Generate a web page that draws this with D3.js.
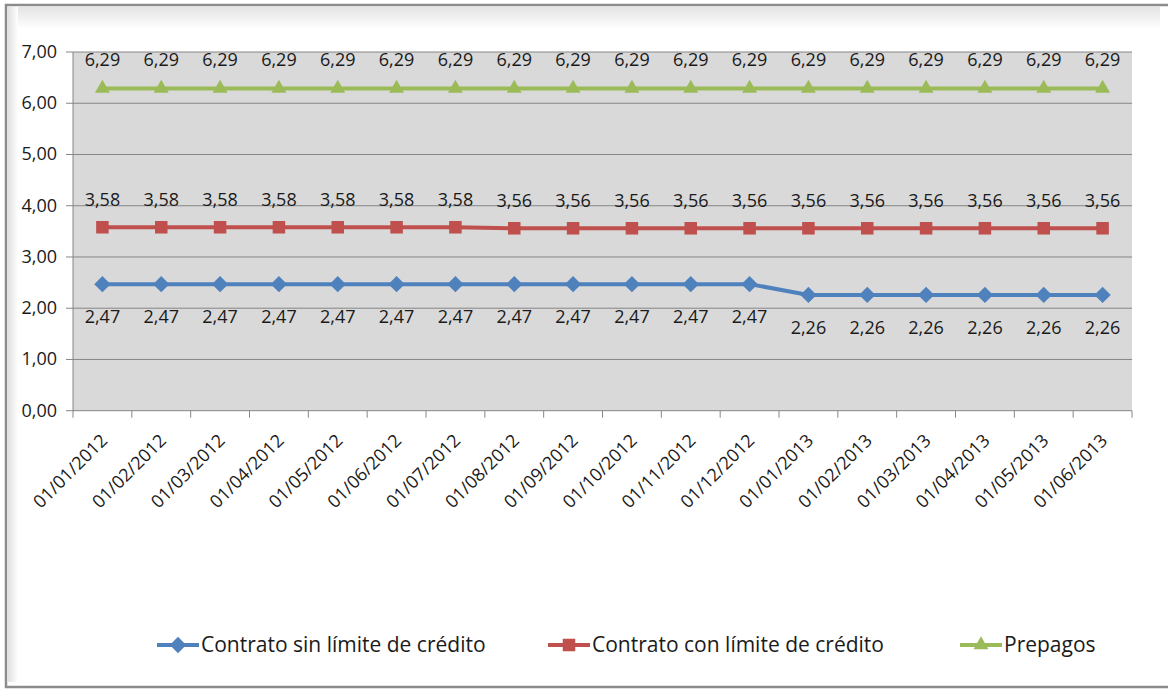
<!DOCTYPE html>
<html><head><meta charset="utf-8">
<script src="https://cdn.jsdelivr.net/npm/d3@7"></script>
<style>
html,body{margin:0;padding:0;background:#fff;}
text{font-family:"Open Sans",sans-serif;fill:#1a1a1a;}
</style></head><body>
<svg id="c" width="1168" height="690"></svg>
<script>
const dates = ["01/01/2012","01/02/2012","01/03/2012","01/04/2012","01/05/2012","01/06/2012","01/07/2012","01/08/2012","01/09/2012","01/10/2012","01/11/2012","01/12/2012","01/01/2013","01/02/2013","01/03/2013","01/04/2013","01/05/2013","01/06/2013"];
const sinLimite = [2.47,2.47,2.47,2.47,2.47,2.47,2.47,2.47,2.47,2.47,2.47,2.47,2.26,2.26,2.26,2.26,2.26,2.26];
const conLimite = [3.58,3.58,3.58,3.58,3.58,3.58,3.58,3.56,3.56,3.56,3.56,3.56,3.56,3.56,3.56,3.56,3.56,3.56];
const prepagos = [6.29,6.29,6.29,6.29,6.29,6.29,6.29,6.29,6.29,6.29,6.29,6.29,6.29,6.29,6.29,6.29,6.29,6.29];
const seriesNames = ["Contrato sin límite de crédito","Contrato con límite de crédito","Prepagos"];
const yTicks = [0,1,2,3,4,5,6,7];

const svg = d3.select("#c");
const defs = svg.append("defs");
const g1 = defs.append("linearGradient").attr("id","topg").attr("x1",0).attr("y1",0).attr("x2",0).attr("y2",1);
g1.append("stop").attr("offset","0").attr("stop-color","#e4e4e4");
g1.append("stop").attr("offset","1").attr("stop-color","#ffffff");
const g2 = defs.append("linearGradient").attr("id","leftg").attr("x1",0).attr("y1",0).attr("x2",1).attr("y2",0);
g2.append("stop").attr("offset","0").attr("stop-color","#e0e0e0");
g2.append("stop").attr("offset","1").attr("stop-color","#ffffff");

// frame
svg.append("rect").attr("x",6).attr("y",5).attr("width",1170).attr("height",682).attr("fill","#fff").attr("stroke","#8c8c8c").attr("stroke-width",2.5);
svg.append("rect").attr("x",8).attr("y",7).attr("width",1152).attr("height",22).attr("fill","url(#topg)");
svg.append("rect").attr("x",8).attr("y",7).attr("width",10).attr("height",675).attr("fill","url(#leftg)");

const fmt = v => d3.format(".2f")(v).replace(".", ",");
const L = 73, R = 1132, T = 52, B = 410.7;
const x = d3.scaleBand().domain(dates).range([L,R]);
const y = d3.scaleLinear().domain([0,7]).range([B,T]);
const cx = d => x(d) + x.bandwidth()/2;

svg.append("rect").attr("x",L).attr("y",T).attr("width",R-L).attr("height",B-T).attr("fill","#d9d9d9");

// grid
svg.append("g").selectAll("line").data(yTicks).join("line")
  .attr("x1",L-7).attr("x2",R).attr("y1",d=>y(d)).attr("y2",d=>y(d))
  .attr("stroke","#868686").attr("stroke-width",1);
svg.append("line").attr("x1",L).attr("x2",L).attr("y1",T).attr("y2",B).attr("stroke","#868686");
svg.append("g").selectAll("text").data(yTicks).join("text")
  .attr("x",57).attr("y",d=>y(d)+6).attr("text-anchor","end").attr("font-size",18).text(fmt);

// x ticks
const bounds = dates.map(d=>x(d)).concat([R]);
svg.append("g").selectAll("line").data(bounds).join("line")
  .attr("x1",d=>d).attr("x2",d=>d).attr("y1",B).attr("y2",B+7).attr("stroke","#868686");
svg.append("g").selectAll("text").data(dates).join("text")
  .attr("transform",d=>`translate(${cx(d)+6},${B+31}) rotate(-45)`)
  .attr("text-anchor","end").attr("font-size",18).text(d=>d);

const series = [
  {name:seriesNames[0], vals:sinLimite, color:"#4f81bd", shape:"diamond", dy:39},
  {name:seriesNames[1], vals:conLimite, color:"#c0504d", shape:"square", dy:-21},
  {name:seriesNames[2], vals:prepagos, color:"#9bbb59", shape:"triangle", dy:-22}
];
const symFor = s => s==="diamond" ? d3.symbol().type(d3.symbolDiamond2).size(170)
  : s==="square" ? d3.symbol().type(d3.symbolSquare2).size(200)
  : d3.symbol().type(d3.symbolTriangle2).size(160);

const line = d3.line().x(d=>cx(d.k)).y(d=>y(d.v));
series.forEach(s=>{
  const pts = dates.map((k,i)=>({k, v:s.vals[i]}));
  svg.append("path").datum(pts).attr("d",line).attr("fill","none").attr("stroke",s.color).attr("stroke-width",4);
  const sym = symFor(s.shape);
  svg.append("g").selectAll("path").data(pts).join("path")
    .attr("transform",d=>`translate(${cx(d.k)},${y(d.v)})`).attr("d",sym).attr("fill",s.color);
  svg.append("g").selectAll("text").data(pts).join("text")
    .attr("x",d=>cx(d.k)).attr("y",d=>y(d.v)+s.dy).attr("text-anchor","middle").attr("font-size",18).text(d=>fmt(d.v));
});

// legend
const legX = [157, 548, 960];
series.forEach((s,i)=>{
  const lg = svg.append("g").attr("transform",`translate(${legX[i]},645)`);
  lg.append("line").attr("x1",0).attr("x2",42).attr("stroke",s.color).attr("stroke-width",4);
  lg.append("path").attr("transform","translate(21,0)").attr("d",symFor(s.shape)()).attr("fill",s.color);
  lg.append("text").attr("x",44).attr("y",7).attr("font-size",21).text(s.name);
});
</script></body></html>
